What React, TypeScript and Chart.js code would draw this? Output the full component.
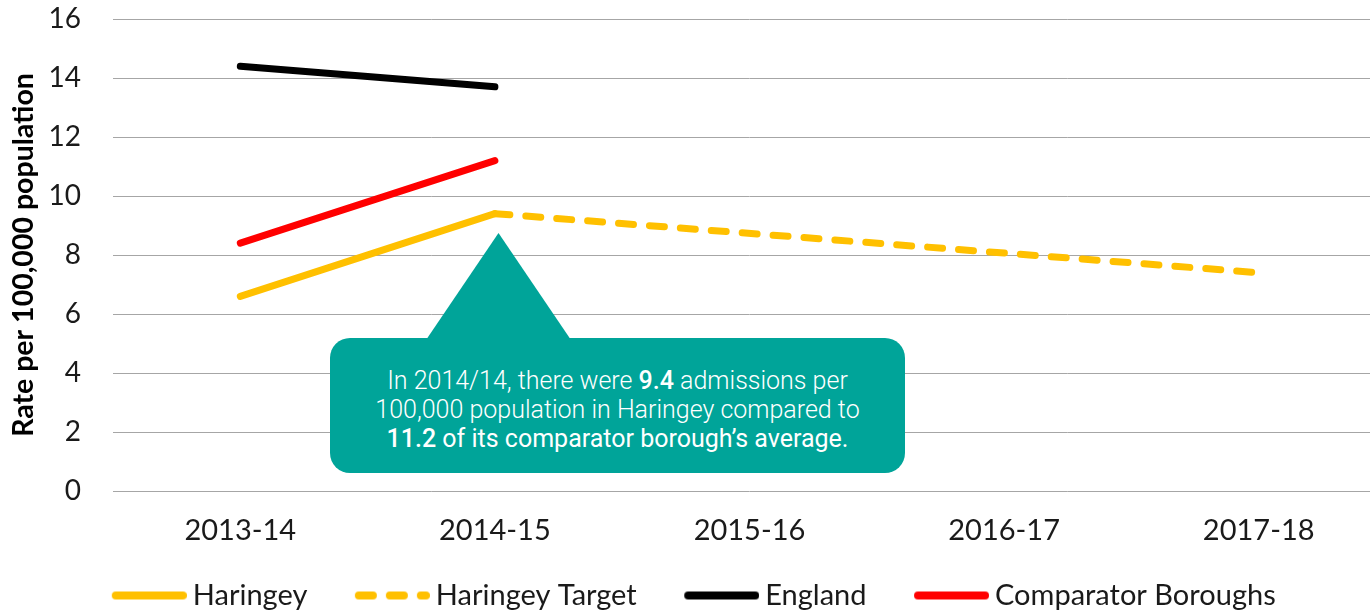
import React, { useEffect, useRef } from "react";
import { Chart, registerables } from "chart.js";

Chart.register(...registerables);

// ---------- data ----------
const categories = ["2013-14", "2014-15", "2015-16", "2016-17", "2017-18"];
const haringey = [6.6, 9.4, null, null, null];
const haringeyTarget = [null, 9.4, null, null, 7.4];
const england = [14.4, 13.7, null, null, null];
const comparatorBoroughs = [8.4, 11.2, null, null, null];
const seriesNames = ["Haringey", "Haringey Target", "England", "Comparator Boroughs"];
const seriesColors = ["#FFC000", "#FFC000", "#000000", "#FF0000"];
const seriesDashed = [false, true, false, false];
const yMin = 0;
const yMax = 16;
const yStep = 2;
const yTitle = "Rate per 100,000 population";

const FONT = "Lato, 'Open Sans', sans-serif";
const TEAL = "#00A499";
const LEGEND_EXTRA = 26; // blank space in front of each legend symbol

function makeLegendSymbol(color: string, dashed: boolean) {
  const c = document.createElement("canvas");
  c.width = 75 + LEGEND_EXTRA;
  c.height = 10;
  const g = c.getContext("2d")!;
  g.strokeStyle = color;
  g.lineWidth = 8;
  g.lineCap = "round";
  if (dashed) g.setLineDash([14, 17]);
  g.beginPath();
  g.moveTo(LEGEND_EXTRA + 4, 5);
  g.lineTo(LEGEND_EXTRA + 71, 5);
  g.stroke();
  return c;
}

export default function App() {
  const canvasRef = useRef<HTMLCanvasElement | null>(null);

  useEffect(() => {
    if (!canvasRef.current) return;
    const seriesData = [haringey, haringeyTarget, england, comparatorBoroughs];
    const symbols = seriesColors.map((c, i) => makeLegendSymbol(c, seriesDashed[i]));
    const chart = new Chart(canvasRef.current, {
      type: "line",
      data: {
        labels: categories,
        datasets: seriesData.map((d, i) => ({
          label: seriesNames[i],
          data: d,
          borderColor: seriesColors[i],
          backgroundColor: seriesColors[i],
          borderWidth: 7,
          borderCapStyle: "round",
          borderJoinStyle: "round",
          borderDash: seriesDashed[i] ? [15, 16] : [],
          pointRadius: 0,
          pointHoverRadius: 0,
          spanGaps: true,
          tension: 0,
        })),
      },
      options: {
        responsive: false,
        animation: false,
        events: [],
        layout: { padding: { left: -16, right: 14, top: 19, bottom: 0 } },
        plugins: {
          tooltip: { enabled: false },
          legend: {
            position: "bottom",
            labels: {
              usePointStyle: true,
              pointStyleWidth: 58 + LEGEND_EXTRA,
              boxHeight: 10,
              padding: 30,
              color: "#1a1a1a",
              font: { family: FONT, size: 29 },
              generateLabels: (ch: any) => {
                const items = Chart.defaults.plugins.legend.labels.generateLabels(ch);
                return items.map((it: any, i: number) => ({
                  ...it,
                  pointStyle: symbols[it.datasetIndex ?? i],
                  lineWidth: 0,
                  lineDash: [],
                }));
              },
            },
          },
        },
        scales: {
          x: {
            offset: true,
            grid: { display: false, drawTicks: false, offset: true },
            border: { display: false },
            ticks: {
              color: "#1a1a1a",
              font: { family: FONT, size: 29 },
              padding: 22,
              maxRotation: 0,
            },
            afterFit: (s: any) => {
              s.height = 60;
              s.paddingLeft = 0;
              s.paddingRight = 0;
            },
          },
          y: {
            min: yMin,
            max: yMax,
            ticks: {
              stepSize: yStep,
              color: "#1a1a1a",
              font: { family: FONT, size: 28 },
              padding: 32,
            },
            grid: { color: "#A6A6A6", lineWidth: 1, drawTicks: false },
            border: { display: false },
            title: {
              display: true,
              text: yTitle,
              color: "#000",
              font: { family: FONT, size: 28.5, weight: "bold" },
              padding: { top: 23, bottom: 0 },
            },
            afterFit: (s: any) => {
              s.width = 129;
              s.paddingTop = 0;
              s.paddingBottom = 0;
            },
          },
        },
      },
    } as any);
    return () => chart.destroy();
  }, []);

  return (
    <div
      style={{
        position: "fixed",
        left: 0,
        top: 0,
        width: 1370,
        height: 612,
        overflow: "hidden",
        background: "#fff",
      }}
    >
      <canvas
        ref={canvasRef}
        width={1400}
        height={620}
        style={{ position: "absolute", left: 0, top: 0 }}
      />
      <div
        style={{
          position: "absolute",
          left: 426,
          top: 233,
          width: 145,
          height: 107,
          background: TEAL,
          clipPath: "polygon(50% 0, 100% 100%, 0 100%)",
        }}
      />
      <div
        style={{
          position: "absolute",
          left: 330,
          top: 338,
          width: 575,
          height: 135,
          boxSizing: "border-box",
          paddingTop: 28,
          background: TEAL,
          borderRadius: 20,
          color: "#fff",
          fontFamily: "Roboto, 'Open Sans', sans-serif",
          fontWeight: 300,
          fontSize: 25,
          lineHeight: "29px",
          textAlign: "center",
          whiteSpace: "nowrap",
        }}
      >
        <div>
          In 2014/14, there were <span style={{ fontWeight: 500 }}>9.4</span> admissions per
        </div>
        <div>100,000 population in Haringey compared to</div>
        <div style={{ fontWeight: 400 }}>
          <span style={{ fontWeight: 500 }}>11.2</span> of its comparator borough’s average.
        </div>
      </div>
    </div>
  );
}
